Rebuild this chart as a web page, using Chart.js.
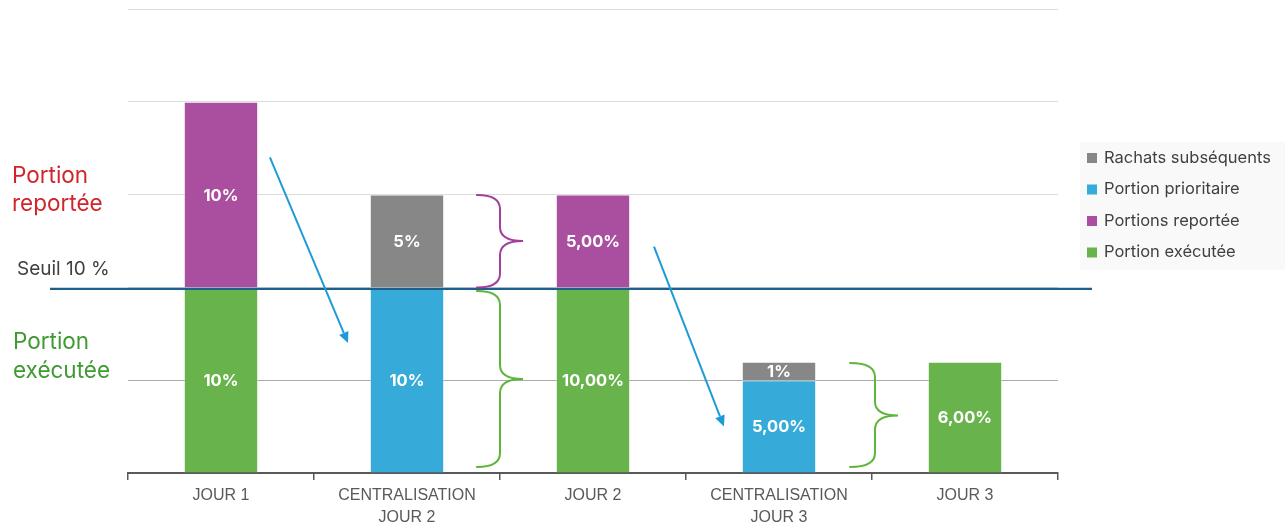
<!DOCTYPE html>
<html><head><meta charset="utf-8">
<script src="https://cdn.jsdelivr.net/npm/chart.js@4"></script>
<style>html,body{margin:0;padding:0;background:#fff}canvas{display:block}</style>
</head><body>
<canvas id="c" width="1287" height="526"></canvas>
<script>
const categories = [["JOUR 1"], ["CENTRALISATION", "JOUR 2"], ["JOUR 2"], ["CENTRALISATION", "JOUR 3"], ["JOUR 3"]];
const executee   = [10, null, 10, null, 6];
const prioritaire= [null, 10, null, 5, null];
const reportee   = [10, null, 5, null, null];
const rachats    = [null, 5, null, 1, null];
const executeeLabels    = ["10%", null, "10,00%", null, "6,00%"];
const prioritaireLabels = [null, "10%", null, "5,00%", null];
const reporteeLabels    = ["10%", null, "5,00%", null, null];
const rachatsLabels     = [null, "5%", null, "1%", null];
const seuil = 10;
const yTicks = [0, 5, 10, 15, 20, 25];

const COL = {green:'#69B34C', blue:'#36ABDA', purple:'#AA4EA0', grey:'#878787'};

const labelPlugin = {
  id:'labels',
  afterDatasetsDraw(chart){
    const ctx = chart.ctx;
    const x = chart.scales.x, y = chart.scales.y;
    const cat = x.width / categories.length;
    const px = v => x.getPixelForValue(0) + v * cat;
    const py = v => y.getPixelForValue(v);
    // data labels
    ctx.save();
    ctx.fillStyle = '#fff';
    ctx.font = 'bold 16.5px Inter, "Liberation Sans", sans-serif';
    ctx.textAlign = 'center'; ctx.textBaseline = 'middle';
    chart.data.datasets.forEach((ds, di) => {
      const meta = chart.getDatasetMeta(di);
      meta.data.forEach((el, i) => {
        const lab = ds.labelsText[i];
        if (!lab) return;
        ctx.fillText(lab, el.x, (el.y + el.base) / 2 + 1);
      });
    });
    ctx.restore();
    // seuil line
    ctx.save();
    ctx.strokeStyle = '#1F5F8B'; ctx.lineWidth = 2.2;
    ctx.beginPath(); ctx.moveTo(50, py(seuil) + 1.5); ctx.lineTo(1092, py(seuil) + 1.5); ctx.stroke();
    ctx.restore();
    // arrows
    const arrow = (x0, y0, x1, y1) => {
      const ax0 = px(x0), ay0 = py(y0), ax1 = px(x1), ay1 = py(y1);
      const ang = Math.atan2(ay1 - ay0, ax1 - ax0);
      const L = 11, W = 5;
      ctx.save();
      ctx.strokeStyle = '#1E9BD7'; ctx.fillStyle = '#1E9BD7'; ctx.lineWidth = 2;
      ctx.beginPath(); ctx.moveTo(ax0, ay0);
      ctx.lineTo(ax1 - L * Math.cos(ang), ay1 - L * Math.sin(ang)); ctx.stroke();
      ctx.beginPath();
      ctx.moveTo(ax1, ay1);
      ctx.lineTo(ax1 - L * Math.cos(ang) + W * Math.sin(ang), ay1 - L * Math.sin(ang) - W * Math.cos(ang));
      ctx.lineTo(ax1 - L * Math.cos(ang) - W * Math.sin(ang), ay1 - L * Math.sin(ang) + W * Math.cos(ang));
      ctx.closePath(); ctx.fill();
      ctx.restore();
    };
    arrow(0.263, 17.0, 0.683, 7.0);
    arrow(2.328, 12.2, 2.704, 2.5);
    // braces
    const brace = (c, x0, xv, xt, yT, yM, yB) => {
      const X0 = px(x0), XV = px(xv), XT = px(xt);
      const YT = py(yT), YM = py(yM), YB = py(yB);
      const r = 14;
      ctx.save();
      ctx.strokeStyle = c; ctx.lineWidth = 2; ctx.lineCap = 'round';
      ctx.beginPath();
      ctx.moveTo(X0, YT);
      ctx.quadraticCurveTo(XV, YT, XV, YT + r);
      ctx.lineTo(XV, YM - r);
      ctx.quadraticCurveTo(XV, YM, XT, YM);
      ctx.quadraticCurveTo(XV, YM, XV, YM + r);
      ctx.lineTo(XV, YB - r);
      ctx.quadraticCurveTo(XV, YB, X0, YB);
      ctx.stroke();
      ctx.restore();
    };
    brace('#A43E9C', 1.376, 1.5, 1.624, 14.98, 12.5, 10.0);
    brace('#5DB53B', 1.376, 1.5, 1.624, 9.8, 5.06, 0.32);
    brace('#5DB53B', 3.382, 3.516, 3.64, 5.93, 3.1, 0.32);
    // side texts
    ctx.save();
    ctx.textBaseline = 'middle'; ctx.textAlign = 'left';
    ctx.font = '22.5px Inter, "Noto Sans", sans-serif';
    ctx.fillStyle = '#D0262B';
    ctx.fillText('Portion', 12, py(16.0));
    ctx.fillText('reportée', 12, py(14.5));
    ctx.fillStyle = '#3F9A32';
    ctx.fillText('Portion', 13, py(7.05));
    ctx.fillText('exécutée', 13, py(5.5));
    ctx.fillStyle = '#404040';
    ctx.font = '19px Inter, "Noto Sans", sans-serif';
    ctx.fillText('Seuil 10 %', 17, py(10.95));
    ctx.restore();
    // legend
    ctx.save();
    ctx.fillStyle = '#F9F9F9';
    ctx.fillRect(1080, 142, 205, 128);
    const items = [['Rachats subséquents', COL.grey], ['Portion prioritaire', COL.blue], ['Portions reportée', COL.purple], ['Portion exécutée', COL.green]];
    ctx.font = '16.5px Inter, "Noto Sans", sans-serif';
    ctx.textBaseline = 'middle'; ctx.textAlign = 'left';
    items.forEach((it, k) => {
      const yy = 158 + k * 31.5;
      ctx.fillStyle = it[1];
      ctx.fillRect(1087, yy - 5, 10, 10);
      ctx.fillStyle = '#404040';
      ctx.fillText(it[0], 1104, yy);
    });
    ctx.restore();
  }
};

new Chart(document.getElementById('c'), {
  type: 'bar',
  data: {
    labels: categories,
    datasets: [
      {label:'Portion exécutée', data: executee, labelsText: executeeLabels, backgroundColor: COL.green},
      {label:'Portion prioritaire', data: prioritaire, labelsText: prioritaireLabels, backgroundColor: COL.blue},
      {label:'Portions reportée', data: reportee, labelsText: reporteeLabels, backgroundColor: COL.purple},
      {label:'Rachats subséquents', data: rachats, labelsText: rachatsLabels, backgroundColor: COL.grey}
    ]
  },
  options: {
    responsive: false,
    animation: false,
    layout: {padding: {left: 128, right: 229, top: 9, bottom: 0}},
    datasets: {bar: {categoryPercentage: 1, barPercentage: 0.4, borderColor: 'rgba(255,255,255,0.35)', borderWidth: 1, borderSkipped: 'bottom'}},
    plugins: {legend: {display: false}, tooltip: {enabled: false}},
    scales: {
      x: {
        stacked: true,
        border: {display: true, color: '#595959', width: 2},
        grid: {display: true, offset: true, drawOnChartArea: false, drawTicks: true, tickLength: 7, color: '#595959', lineWidth: 1.5},
        ticks: {color: '#595959', padding: 5, font: {family: '"Liberation Sans", Arial, sans-serif', size: 16, lineHeight: 1.375}, maxRotation: 0, autoSkip: false},
        afterFit(s){ s.height = 53; }
      },
      y: {
        stacked: true, min: 0, max: 25,
        afterBuildTicks(s){ s.ticks = yTicks.map(v => ({value: v})); },
        border: {display: false},
        grid: {color: ctx => ctx.tick && ctx.tick.value === 5 ? '#ABABAB' : '#DCDCDC', lineWidth: 1, drawTicks: false},
        ticks: {display: false},
        afterFit(s){ s.width = 0; }
      }
    }
  },
  plugins: [labelPlugin]
});
</script>
</body></html>
